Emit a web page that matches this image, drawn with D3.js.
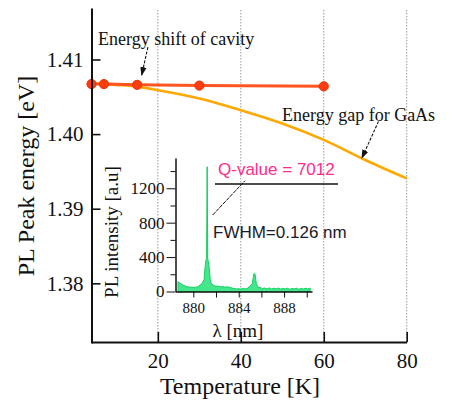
<!DOCTYPE html>
<meta charset="utf-8">
<style>

body {
  margin: 0;
  background: #fff;
}
text {
  font-family: "Liberation Serif", "Times New Roman", serif;
  fill: #111;
}
.sans {
  font-family: "Liberation Sans", Arial, sans-serif;
}
.grid {
  stroke: #9a9a9a;
  stroke-width: 1;
  stroke-dasharray: 1.5,1.5;
}
.axis path, .axis line {
  stroke: #111;
}

</style>
<body>
<script src="https://d3js.org/d3.v7.min.js"></script>
<script>
var width = 456,
    height = 400;

// main chart
var tempTicks = [20, 40, 60, 80];
var energyTicks = [1.38, 1.39, 1.40, 1.41];

var cavityTemp = [4, 7, 15, 30, 60];
var cavityEnergy = [1.4067, 1.4067, 1.4066, 1.4065, 1.4064];

var gapTemp = [4, 10, 15, 20, 30, 40, 50, 60, 70, 80];
var gapEnergy = [1.4068, 1.40659, 1.40636, 1.40589, 1.40478, 1.40321, 1.40143, 1.39923, 1.39653, 1.39406];

// inset spectrum
var wlTicks = [880, 882, 884, 886, 888, 890];
var wlLabels = [880, 884, 888];
var intMajor = [0, 400, 800, 1200];
var intMinor = [200, 600, 1000, 1400];

var wavelength = [878.65, 878.8, 879.0, 879.2, 879.4, 879.6, 879.8, 880.0, 880.2, 880.4,
  880.6, 880.8, 880.95, 881.05, 881.12, 881.17, 881.22, 881.27, 881.32, 881.4,
  881.5, 881.6, 881.8, 882.0, 882.2, 882.4, 882.6, 882.8, 883.0, 883.2,
  883.4, 883.6, 883.8, 884.0, 884.2, 884.4, 884.6, 884.8, 885.0, 885.2,
  885.35, 885.45, 885.55, 885.7, 885.9, 886.1, 886.3, 886.5, 886.7, 886.9,
  887.1, 887.3, 887.5, 887.7, 887.9, 888.1, 888.3, 888.5, 888.7, 888.9,
  889.1, 889.3, 889.5, 889.7, 889.9, 890.1, 890.3];
var intensity = [114, 100, 80, 68, 58, 52, 50, 48, 50, 55,
  75, 100, 140, 300, 370, 380, 1450, 380, 350, 280,
  120, 90, 70, 60, 62, 55, 58, 50, 55, 48,
  40, 35, 30, 32, 28, 35, 30, 40, 60, 95,
  210, 200, 90, 50, 45, 35, 40, 30, 42, 28,
  38, 30, 40, 28, 35, 30, 38, 25, 35, 30,
  38, 26, 34, 30, 38, 28, 40];

var svg = d3.select("body").append("svg")
    .attr("width", width)
    .attr("height", height);

var defs = svg.append("defs");
defs.append("marker")
    .attr("id", "head")
    .attr("viewBox", "0 0 10 10")
    .attr("refX", 9)
    .attr("refY", 5)
    .attr("markerWidth", 9)
    .attr("markerHeight", 9)
    .attr("markerUnits", "userSpaceOnUse")
    .attr("orient", "auto")
  .append("path")
    .attr("d", "M0,1.5L10,5L0,8.5Z")
    .attr("fill", "#111");

var x = d3.scaleLinear().domain([4, 80]).range([91.5, 406.7]),
    y = d3.scaleLinear().domain([1.372, 1.4169]).range([343, 8]);

// dotted grid
svg.selectAll(".grid")
    .data(tempTicks)
  .enter().append("line")
    .attr("class", "grid")
    .attr("x1", function(d) { return x(d); })
    .attr("x2", function(d) { return x(d); })
    .attr("y1", 10)
    .attr("y2", 342);

var gapLine = d3.line()
    .x(function(d) { return x(d[0]); })
    .y(function(d) { return y(d[1]); })
    .curve(d3.curveMonotoneX);

svg.append("path")
    .datum(d3.zip(gapTemp, gapEnergy))
    .attr("d", gapLine)
    .attr("fill", "none")
    .attr("stroke", "#ffa800")
    .attr("stroke-width", 2.6);

var cavity = d3.zip(cavityTemp, cavityEnergy);

svg.append("path")
    .datum(cavity)
    .attr("d", d3.line().x(function(d) { return x(d[0]); }).y(function(d) { return y(d[1]); }))
    .attr("fill", "none")
    .attr("stroke", "#ff5520")
    .attr("stroke-width", 3);

svg.selectAll(".dot")
    .data(cavity)
  .enter().append("circle")
    .attr("class", "dot")
    .attr("cx", function(d) { return x(d[0]); })
    .attr("cy", function(d) { return y(d[1]); })
    .attr("r", 4.6)
    .attr("fill", "#ff3c10")
    .attr("stroke", "#e83000")
    .attr("stroke-width", 1);

// main axes
var yAxis = svg.append("g")
    .attr("class", "axis")
    .attr("transform", "translate(91.5,0)")
    .call(d3.axisLeft(y).tickValues(energyTicks).tickFormat(d3.format(".2f"))
      .tickSizeInner(-9).tickSizeOuter(0).tickPadding(8));
yAxis.select(".domain").attr("stroke-width", 2);
yAxis.selectAll(".tick line").attr("stroke-width", 1.6);
yAxis.selectAll("text").attr("font-size", 21).attr("fill", "#111");

var xAxis = svg.append("g")
    .attr("class", "axis")
    .attr("transform", "translate(0,342)")
    .call(d3.axisBottom(x).tickValues(tempTicks)
      .tickSizeInner(-10).tickSizeOuter(0).tickPadding(11));
xAxis.select(".domain").attr("stroke-width", 2);
xAxis.selectAll(".tick line").attr("stroke-width", 1.6);
xAxis.selectAll("text").attr("font-size", 21).attr("fill", "#111");

svg.append("text")
    .attr("transform", "translate(34,176)rotate(-90)")
    .attr("text-anchor", "middle")
    .attr("font-size", 24)
    .text("PL Peak energy [eV]");

svg.append("text")
    .attr("x", 240)
    .attr("y", 394)
    .attr("text-anchor", "middle")
    .attr("font-size", 24)
    .text("Temperature [K]");

// annotations
svg.append("text")
    .attr("x", 98)
    .attr("y", 45)
    .attr("font-size", 18)
    .text("Energy shift of cavity");

svg.append("line")
    .attr("x1", x(17.6)).attr("y1", y(1.41165))
    .attr("x2", x(16.1)).attr("y2", y(1.4079))
    .attr("stroke", "#111")
    .attr("stroke-width", 1.1)
    .attr("stroke-dasharray", "3,1.5")
    .attr("marker-end", "url(#head)");

svg.append("text")
    .attr("x", 282)
    .attr("y", 121)
    .attr("font-size", 18)
    .text("Energy gap for GaAs");

svg.append("line")
    .attr("x1", x(73.2)).attr("y1", y(1.4017))
    .attr("x2", x(69.2)).attr("y2", y(1.3968))
    .attr("stroke", "#111")
    .attr("stroke-width", 1.1)
    .attr("stroke-dasharray", "3,1.5")
    .attr("marker-end", "url(#head)");

// inset
var ix = d3.scaleLinear().domain([878.43, 890.46]).range([175.5, 312]),
    iy = d3.scaleLinear().domain([0, 1552]).range([291.5, 158]);

var spec = d3.zip(wavelength, intensity);

svg.append("path")
    .datum(spec)
    .attr("d", d3.area()
      .x(function(d) { return ix(d[0]); })
      .y0(iy(0))
      .y1(function(d) { return iy(d[1]); }))
    .attr("fill", "#45e68c")
    .attr("stroke", "#10d060")
    .attr("stroke-width", 1);

var iyAxis = svg.append("g")
    .attr("class", "axis")
    .attr("transform", "translate(175.5,0)")
    .call(d3.axisLeft(iy).tickValues(intMajor).tickFormat(d3.format("d"))
      .tickSizeInner(9).tickSizeOuter(0).tickPadding(2));
iyAxis.select(".domain").attr("stroke-width", 1.5);
iyAxis.selectAll("text").attr("font-size", 17).attr("fill", "#111");

svg.append("g")
    .attr("class", "axis")
    .attr("transform", "translate(175.5,0)")
    .call(d3.axisLeft(iy).tickValues(intMinor).tickSizeInner(5).tickSizeOuter(0).tickFormat(""))
    .select(".domain").remove();

var ixAxis = svg.append("g")
    .attr("class", "axis")
    .attr("transform", "translate(0,291.5)")
    .call(d3.axisBottom(ix).tickValues(wlTicks)
      .tickFormat(function(d) { return wlLabels.indexOf(d) >= 0 ? d : ""; })
      .tickSizeInner(6).tickSizeOuter(0).tickPadding(5));
ixAxis.select(".domain").attr("stroke-width", 1.5);
ixAxis.selectAll("text").attr("font-size", 15).attr("fill", "#111");

svg.append("text")
    .attr("transform", "translate(118,232)rotate(-90)")
    .attr("text-anchor", "middle")
    .attr("font-size", 19)
    .text("PL intensity [a.u]");

svg.append("text")
    .attr("x", 238)
    .attr("y", 337)
    .attr("text-anchor", "middle")
    .attr("font-size", 19)
    .text("λ [nm]");

svg.append("text")
    .attr("class", "sans")
    .attr("x", 218)
    .attr("y", 175)
    .attr("font-size", 17)
    .style("fill", "#ff2d8a")
    .text("Q-value = 7012");

svg.append("line")
    .attr("x1", 215).attr("x2", 338)
    .attr("y1", 184).attr("y2", 184)
    .attr("stroke", "#111")
    .attr("stroke-width", 1.3);

svg.append("line")
    .attr("x1", 212.7).attr("y1", 215)
    .attr("x2", 245).attr("y2", 180.7)
    .attr("stroke", "#111")
    .attr("stroke-width", 1)
    .attr("stroke-dasharray", "4,1");

svg.append("text")
    .attr("class", "sans")
    .attr("x", 213)
    .attr("y", 238)
    .attr("font-size", 17)
    .style("fill", "#1a1a2a")
    .text("FWHM=0.126 nm");

</script>
